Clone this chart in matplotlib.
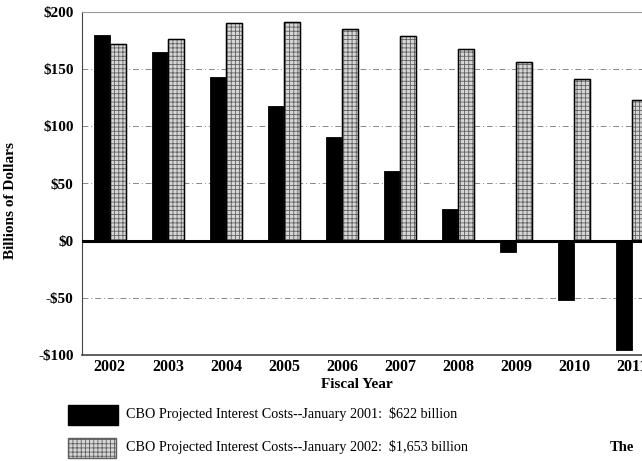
import matplotlib.pyplot as plt
import matplotlib.patches as mpatches
import numpy as np

plt.rcParams['font.family'] = ['Liberation Serif', 'DejaVu Serif']
plt.rcParams['hatch.linewidth'] = 0.6

years = ['2002', '2003', '2004', '2005', '2006', '2007', '2008', '2009', '2010', '2011']
jan2001 = [180, 165, 143, 118, 91, 61, 28, -10, -52, -96]
jan2002 = [172, 176, 190, 191, 185, 179, 168, 156, 141, 123]
label2001 = 'CBO Projected Interest Costs--January 2001:  $622 billion'
label2002 = 'CBO Projected Interest Costs--January 2002:  $1,653 billion'

W, H = 642, 461
fig = plt.figure(figsize=(W / 100, H / 100), dpi=100)
# the scanned chart is cut off on the right, so the axes run past the figure edge
ax = fig.add_axes([82 / W, 1 - 355 / H, 579 / W, 343 / H])

x = np.arange(len(years))
w = 0.28
ax.bar(x - w / 2, jan2001, w, color='black', edgecolor='black', linewidth=0.6, zorder=3)
ax.bar(x + w / 2, jan2002, w, color='#d6d6d6', edgecolor='#606060', linewidth=0.9,
       hatch='++++', zorder=3)
ax.bar(x + w / 2, jan2002, w, color='none', edgecolor='black', linewidth=1.0, zorder=4)

ax.set_xlim(-0.48, 9.5)
ax.set_ylim(-100, 200)
ax.set_yticks([-100, -50, 0, 50, 100, 150, 200])
ax.set_yticklabels(['-$100', '-$50', '$0', '$50', '$100', '$150', '$200'])
ax.set_xticks(x)
ax.set_xticklabels(years)
ax.tick_params(axis='x', length=0, labelsize=11.5, pad=3)
ax.tick_params(axis='y', length=0, labelsize=11, pad=6)
for t in ax.get_xticklabels() + ax.get_yticklabels():
    t.set_fontweight('bold')

for v in [-50, 50, 100, 150]:
    ax.axhline(v, color='#888888', linewidth=0.7, linestyle=(0, (6, 3, 1, 3)), zorder=1)
ax.axhline(0, color='black', linewidth=2.2, zorder=5)

for s in ['top', 'right']:
    ax.spines[s].set_color('#999999')
ax.spines['left'].set_color('#444444')
ax.spines['bottom'].set_color('#444444')
ax.spines['bottom'].set_linewidth(1.2)

ax.set_xlabel('Fiscal Year', fontsize=11, fontweight='bold')
ax.xaxis.set_label_coords((357 - 82) / 579, -23 / 343)
ax.set_ylabel('Billions of Dollars', fontsize=11, fontweight='bold')
ax.yaxis.set_label_coords(-(82 - 17) / 579, (355 - 200) / 343)

# legend drawn by hand below the plot
fig.patches.append(mpatches.Rectangle((68 / W, 1 - 425 / H), 50 / W, 20 / H,
                                      transform=fig.transFigure, facecolor='black',
                                      edgecolor='black'))
fig.patches.append(mpatches.Rectangle((68 / W, 1 - 458 / H), 48 / W, 20 / H,
                                      transform=fig.transFigure, facecolor='#d6d6d6',
                                      edgecolor='#606060', hatch='++++', linewidth=1.0))
fig.text(126 / W, 1 - 414 / H, label2001, fontsize=10.2, va='center')
fig.text(126 / W, 1 - 447 / H, label2002, fontsize=10.2, va='center')
fig.text(610 / W, 1 - 447 / H, 'The', fontsize=10.5, fontweight='bold', va='center')

fig.savefig('out.png', dpi=100)
